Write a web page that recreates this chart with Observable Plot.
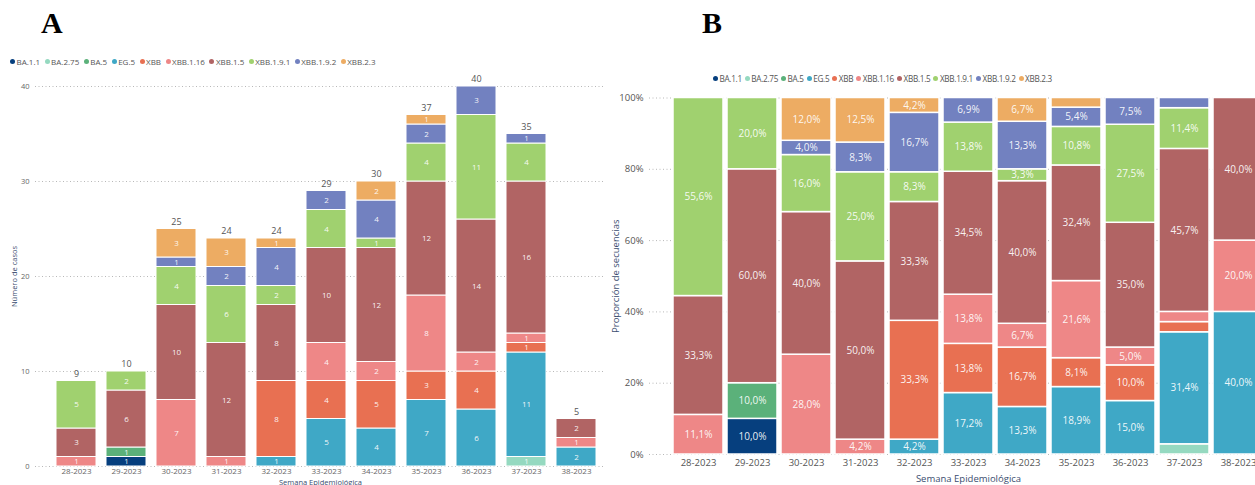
<!DOCTYPE html>
<html><head><meta charset="utf-8">
<script src="https://cdn.jsdelivr.net/npm/d3@7"></script>
<script src="https://cdn.jsdelivr.net/npm/@observablehq/plot@0.6"></script>
<style>
html,body{margin:0;padding:0;width:1255px;height:485px;overflow:hidden;background:#fff;font-family:"Open Sans",sans-serif;}
.abs{position:absolute;}
.panel-label{font-family:"Liberation Serif","Times New Roman",serif;font-weight:bold;font-size:30px;line-height:30px;color:#000;}
.legend{display:flex;white-space:nowrap;color:#555;}
.legend .item{display:inline-flex;align-items:center;}
.legend .dot{display:inline-block;border-radius:50%;}
svg{max-width:none !important;}
g[aria-label="x-axis label"] text, g[aria-label="y-axis label"] text{fill:#3a4d6f;}
</style></head><body>
<div class="abs panel-label" style="left:41px;top:8px">A</div>
<div class="abs panel-label" style="left:702px;top:8px">B</div>
<div id="legA" class="abs legend" style="left:10px;top:56px;font-size:8px"></div>
<div id="legB" class="abs legend" style="left:713px;top:73px;font-size:8.2px;letter-spacing:-0.3px"></div>
<div id="plotA" class="abs" style="left:0px;top:70px"></div>
<div id="plotB" class="abs" style="left:600px;top:85px"></div>
<script>
// ---- data ----
const weeks = ["28-2023","29-2023","30-2023","31-2023","32-2023","33-2023","34-2023","35-2023","36-2023","37-2023","38-2023"];
const variants = ["BA.1.1","BA.2.75","BA.5","EG.5","XBB","XBB.1.16","XBB.1.5","XBB.1.9.1","XBB.1.9.2","XBB.2.3"];
const colors = ["#063f7e","#95d9c0","#5bb17a","#3fa8c6","#e87052","#ee8787","#b16464","#a0d16f","#7281c0","#edac63"];
// cases per week (28..38) for each variant
const BA_1_1    = [0,1,0,0,0,0,0,0,0,0,0];
const BA_2_75   = [0,0,0,0,0,0,0,0,0,1,0];
const BA_5      = [0,1,0,0,0,0,0,0,0,0,0];
const EG_5      = [0,0,0,0,1,5,4,7,6,11,2];
const XBB       = [0,0,0,0,8,4,5,3,4,1,0];
const XBB_1_16  = [1,0,7,1,0,4,2,8,2,1,1];
const XBB_1_5   = [3,6,10,12,8,10,12,12,14,16,2];
const XBB_1_9_1 = [5,2,4,6,2,4,1,4,11,4,0];
const XBB_1_9_2 = [0,0,1,2,4,2,4,2,3,1,0];
const XBB_2_3   = [0,0,3,3,1,0,2,1,0,0,0];
const countsByVariant = [BA_1_1,BA_2_75,BA_5,EG_5,XBB,XBB_1_16,XBB_1_5,XBB_1_9_1,XBB_1_9_2,XBB_2_3];

const rows = [];
variants.forEach((v,i)=>countsByVariant[i].forEach((n,j)=>{ if(n>0) rows.push({week:weeks[j], variant:v, n}); }));
const totals = d3.rollup(rows, g=>d3.sum(g,d=>d.n), d=>d.week);
const fmtPct = v => (v*100).toFixed(1).replace(".",",") + "%";

// ---- legends ----
function legend(el, gap, dot){
  el.innerHTML = variants.map((v,i)=>`<span class="item" style="margin-right:${gap}px"><span class="dot" style="width:${dot}px;height:${dot}px;background:${colors[i]};margin-right:1.5px"></span>${v}</span>`).join("");
}
legend(document.getElementById("legA"), 4.5, 5);
legend(document.getElementById("legB"), 3, 5);

const colorScale = {domain: variants, range: colors};

// ---- Panel A ----
const plotA = Plot.plot({
  width: 610, height: 425,
  marginLeft: 35, marginRight: 5, marginTop: 16, marginBottom: 29,
  style: {fontFamily: "Open Sans, sans-serif", fontSize: "8px", color: "#666", background: "transparent", overflow: "visible"},
  x: {domain: weeks, range: [49.5, 602.5], paddingInner: 0.205, paddingOuter: 0.1},
  y: {domain: [0, 40]},
  color: colorScale,
  marks: [
    Plot.gridY({ticks: [0,10,20,30,40], stroke: "#b8b8b8", strokeOpacity: 1, strokeDasharray: "1,2.5"}),
    Plot.axisY({ticks: [0,10,20,30,40], tickSize: 0, tickPadding: 6, label: "Número de casos", labelAnchor: "center", labelArrow: "none", labelOffset: 24, fontSize: 7.5}),
    Plot.axisX({tickSize: 0, tickPadding: 2, label: null, fontSize: 8}),
    Plot.axisX({ticks: [], tickSize: 0, label: "Semana Epidemiológica", labelAnchor: "center", labelArrow: "none", labelOffset: 18, fontSize: 7.5}),
    Plot.barY(rows, {x: "week", y: "n", z: "variant", order: variants, fill: "variant", stroke: "white", strokeWidth: 1}),
    Plot.text(rows, Plot.stackY({x: "week", y: "n", z: "variant", order: variants, text: d => String(d.n), fill: "white", fillOpacity: 0.92, fontSize: 8})),
    Plot.text(rows, Plot.groupX({y: "sum", text: "sum"}, {x: "week", y: "n", text: "n", dy: -7, fill: "#555", fontSize: 9}))
  ]
});
document.getElementById("plotA").append(plotA);

// ---- Panel B ----
const plotB = Plot.plot({
  width: 700, height: 400,
  marginLeft: 49, marginRight: 13, marginTop: 12.5, marginBottom: 31,
  style: {fontFamily: "Open Sans, sans-serif", fontSize: "9.5px", color: "#555", background: "transparent", overflow: "visible"},
  x: {domain: weeks, range: [68.8, 667.2], paddingInner: 0.08, paddingOuter: 0.04},
  y: {domain: [0, 1]},
  color: colorScale,
  marks: [
    Plot.gridY({ticks: [0,0.2,0.4,0.6,0.8,1], stroke: "#b8b8b8", strokeOpacity: 1, strokeDasharray: "1,2.5"}),
    Plot.axisY({ticks: [0,0.2,0.4,0.6,0.8,1], tickFormat: d => Math.round(d*100) + "%", tickSize: 0, tickPadding: 6, label: "Proporción de secuencias", labelAnchor: "center", labelArrow: "none", labelOffset: 37, fontSize: 9.5}),
    Plot.axisX({tickSize: 0, tickPadding: 5, label: "Semana Epidemiológica", labelAnchor: "center", labelArrow: "none", labelOffset: 27, fontSize: 9.5}),
    Plot.barY(rows, {x: "week", y: "n", z: "variant", order: variants, offset: "normalize", fill: "variant", stroke: "white", strokeWidth: 1.5}),
    Plot.text(rows, Plot.stackY({x: "week", y: "n", z: "variant", order: variants, offset: "normalize",
      text: d => { const s = d.n / totals.get(d.week); return s >= 0.03 ? fmtPct(s) : ""; },
      fill: "white", fillOpacity: 0.92, fontSize: 10}))
  ]
});
document.getElementById("plotB").append(plotB);
</script>
</body></html>
